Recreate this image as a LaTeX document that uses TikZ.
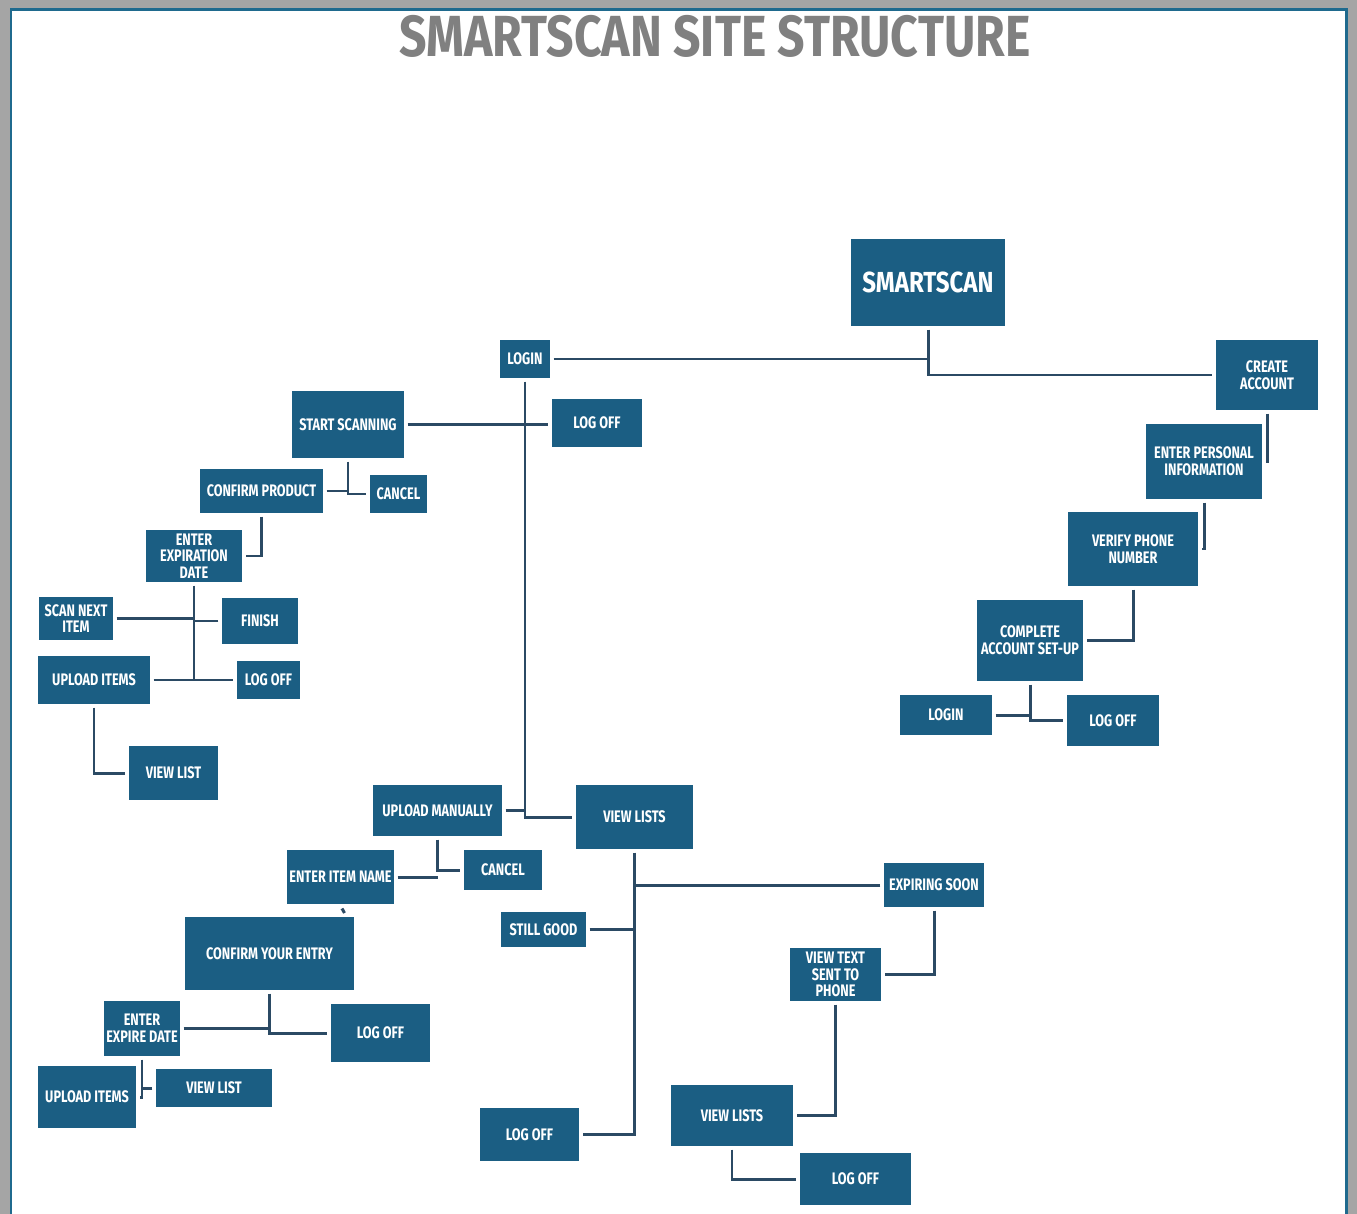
\documentclass[tikz,border=0pt]{standalone}
\usepackage{fontspec}
\newfontfamily\boxfont{Fira Sans}[FakeStretch=0.76]
\newfontfamily\widefont{Fira Sans}[FakeStretch=0.83]
\usetikzlibrary{positioning}
\definecolor{boxblue}{HTML}{1B5E83}
\definecolor{linkblue}{HTML}{2B4A64}
\definecolor{titlegray}{HTML}{808080}
\definecolor{framegray}{HTML}{A5A5A5}
\definecolor{frameblue}{HTML}{1F6A8E}
\tikzset{%
box/.style={fill=boxblue,text=white,align=center,inner sep=1pt,outer sep=2pt,
  font=\boxfont\bfseries\fontsize{9.5}{9.5}\selectfont},
sz/.style 2 args={minimum width=#1*0.02cm,minimum height=#2*0.02cm},
link/.style={draw=linkblue,line width=1.7pt},
heading/.style={text=titlegray,inner sep=0,font=\widefont\bfseries\fontsize{33}{33}\selectfont}
}
\begin{document}
\begin{tikzpicture}[x=0.02cm,y=-0.02cm]

    \useasboundingbox (0,0) rectangle (1357,1214);
    % frame
    \fill[framegray] (0,0) rectangle (1357,1214);
    \fill[white] (11,9) rectangle (1346,1214);
    \draw[frameblue,line width=0.06cm] (11,1214) -- (11,9) -- (1346,9) -- (1346,1214);

    \node[heading] (ttl) at (715,36) {SMARTSCAN SITE STRUCTURE};

    \node[box,sz={154}{87},font=\widefont\bfseries\fontsize{16.5}{16.5}\selectfont] (smartscan) at (928,282.5) {SMARTSCAN};
    \node[box,sz={50}{38}] (login) at (525,359) {LOGIN};
    \node[box,sz={102}{70}] (create) at (1267,375) {CREATE\\ACCOUNT};

    % scanning branch
    \node[box,sz={112}{67}] (startscan) at (348,424.5) {START SCANNING};
    \node[box,sz={90}{48}] (logoffA) at (597,423) {LOG OFF};
    \node[box,sz={123}{44}] (confprod) at (261.5,491) {CONFIRM PRODUCT};
    \node[box,sz={57}{38}] (cancelA) at (398.5,494) {CANCEL};
    \node[box,sz={96}{52}] (enterexp) at (194,556) {ENTER\\EXPIRATION\\DATE};
    \node[box,sz={74}{43}] (scannext) at (76,618.5) {SCAN NEXT\\ITEM};
    \node[box,sz={76}{46}] (finish) at (260,621) {FINISH};
    \node[box,sz={112}{48}] (uploadA) at (94,680) {UPLOAD ITEMS};
    \node[box,sz={63}{38}] (logoffB) at (268.5,680) {LOG OFF};
    \node[box,sz={89}{54}] (viewlistA) at (173.5,773) {VIEW LIST};

    % account branch
    \node[box,sz={116}{75}] (enterpers) at (1204,461.5) {ENTER PERSONAL\\INFORMATION};
    \node[box,sz={130}{74}] (verify) at (1133,549) {VERIFY PHONE\\NUMBER};
    \node[box,sz={106}{81}] (complete) at (1030,640.5) {COMPLETE\\ACCOUNT SET-UP};
    \node[box,sz={92}{40}] (loginB) at (946,715) {LOGIN};
    \node[box,sz={92}{51}] (logoffC) at (1113,720.5) {LOG OFF};

    % manual upload and lists
    \node[box,sz={129}{51}] (upman) at (437.5,810.5) {UPLOAD MANUALLY};
    \node[box,sz={117}{64}] (viewlistsA) at (634.5,817) {VIEW LISTS};
    \node[box,sz={107}{54}] (enteritem) at (340.5,877) {ENTER ITEM NAME};
    \node[box,sz={78}{40}] (cancelB) at (503,870) {CANCEL};
    \node[box,sz={100}{44}] (expsoon) at (934,885) {EXPIRING SOON};
    \node[box,sz={85}{35}] (stillgood) at (543.5,929.5) {STILL GOOD};
    \node[box,sz={169}{73}] (confentry) at (269.5,953.5) {CONFIRM YOUR ENTRY};
    \node[box,sz={91}{53}] (viewtext) at (835.5,974.5) {VIEW TEXT\\SENT TO\\PHONE};
    \node[box,sz={76}{55}] (enterexpB) at (142,1028.5) {ENTER\\EXPIRE DATE};
    \node[box,sz={99}{58}] (logoffD) at (380.5,1033) {LOG OFF};
    \node[box,sz={98}{62}] (uploadB) at (87,1097) {UPLOAD ITEMS};
    \node[box,sz={116}{38}] (viewlistB) at (214,1088) {VIEW LIST};
    \node[box,sz={99}{53}] (logoffE) at (529.5,1134.5) {LOG OFF};
    \node[box,sz={122}{61}] (viewlistsB) at (732,1115.5) {VIEW LISTS};
    \node[box,sz={111}{52}] (logoffF) at (855.5,1179) {LOG OFF};

    \draw[link] (login.east) -| (smartscan.south);
    \draw[link] (smartscan.south) |- (create.west);
    \draw[link] (login.south) |- (viewlistsA.west);
    \draw[link] (upman.east) -- (upman.east -| login.south);

    \draw[link] (startscan.east) -- (startscan.east -| logoffA.west);
    \draw[link] (startscan.south) |- (cancelA.west);
    \draw[link] (confprod.east) -- (confprod.east -| startscan.south);
    \draw[link] (confprod.south) |- (enterexp.east);
    \draw[link] (enterexp.south) |- (logoffB.west);
    \draw[link] (uploadA.east) -- (uploadA.east -| enterexp.south);
    \draw[link] (scannext.east) -- (scannext.east -| enterexp.south);
    \draw[link] (finish.west) -- (finish.west -| enterexp.south);
    \draw[link] (uploadA.south) |- (viewlistA.west);

    \draw[link] (create.south) |- (enterpers.east);
    \draw[link] (enterpers.south) |- (verify.east);
    \draw[link] (verify.south) |- (complete.east);
    \draw[link] (complete.south) |- (logoffC.west);
    \draw[link] (loginB.east) -- (loginB.east -| complete.south);

    \draw[link] (upman.south) |- (cancelB.west);
    \draw[link] (enteritem.east) -- (enteritem.east -| upman.south);
    \draw[link] ([shift={(1.5,1)}]enteritem.south) -- ++(2.5,4.5);
    \draw[link] (confentry.south) |- (logoffD.west);
    \draw[link] (enterexpB.east) -- (enterexpB.east -| confentry.south);
    \draw[link] (enterexpB.south) |- (uploadB.east);
    \draw[link] (viewlistB.west) -- (viewlistB.west -| enterexpB.south);

    \draw[link] (viewlistsA.south) |- (logoffE.east);
    \draw[link] (expsoon.west) -- (expsoon.west -| viewlistsA.south);
    \draw[link] (stillgood.east) -- (stillgood.east -| viewlistsA.south);
    \draw[link] (expsoon.south) |- (viewtext.east);
    \draw[link] (viewtext.south) |- (viewlistsB.east);
    \draw[link] (viewlistsB.south) |- (logoffF.west);

\end{tikzpicture}
\end{document}
